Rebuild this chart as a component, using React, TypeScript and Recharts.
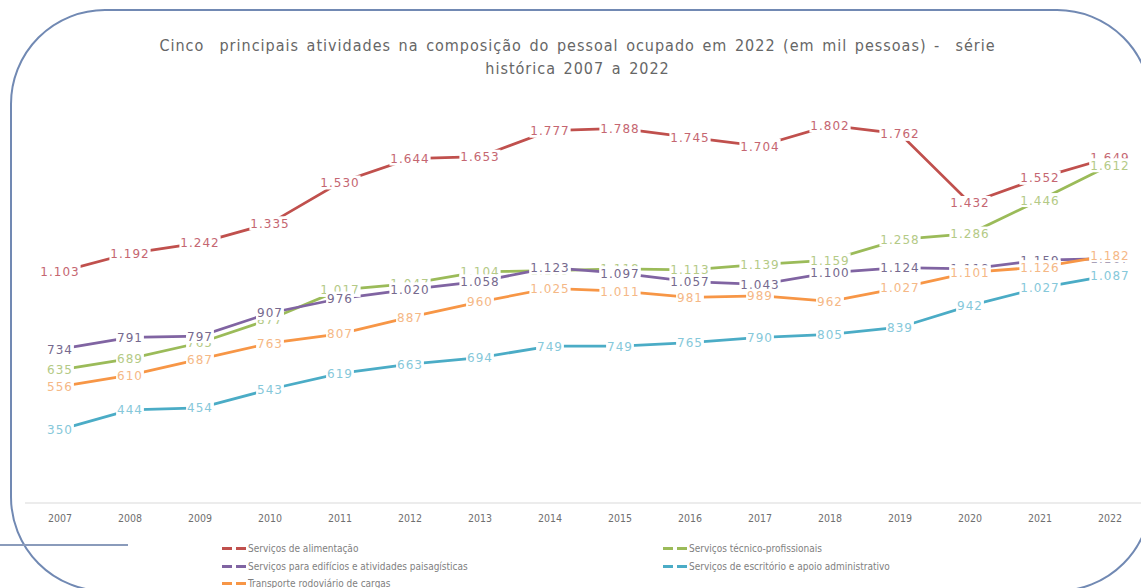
import { LineChart, Line, XAxis, YAxis, Legend, LabelList } from 'recharts';

const years = ['2007', '2008', '2009', '2010', '2011', '2012', '2013', '2014', '2015', '2016', '2017', '2018', '2019', '2020', '2021', '2022'];
const alimentacao = [1103, 1192, 1242, 1335, 1530, 1644, 1653, 1777, 1788, 1745, 1704, 1802, 1762, 1432, 1552, 1649];
const tecnico = [635, 689, 765, 877, 1017, 1047, 1104, 1109, 1118, 1113, 1139, 1159, 1258, 1286, 1446, 1612];
const edificios = [734, 791, 797, 907, 976, 1020, 1058, 1123, 1097, 1057, 1043, 1100, 1124, 1118, 1159, 1167];
const escritorio = [350, 444, 454, 543, 619, 663, 694, 749, 749, 765, 790, 805, 839, 942, 1027, 1087];
const transporte = [556, 610, 687, 763, 807, 887, 960, 1025, 1011, 981, 989, 962, 1027, 1101, 1126, 1182];

const series = [
  { key: 'alimentacao', name: 'Serviços de alimentação', color: '#c0504d', labelColor: '#c56671' },
  { key: 'tecnico', name: 'Serviços técnico-profissionais', color: '#9bbb59', labelColor: '#b4ca86' },
  { key: 'edificios', name: 'Serviços para edifícios e atividades paisagísticas', color: '#8064a2', labelColor: '#76698e' },
  { key: 'escritorio', name: 'Serviços de escritório e apoio administrativo', color: '#4bacc6', labelColor: '#86c8da' },
  { key: 'transporte', name: 'Transporte rodoviário de cargas', color: '#f79646', labelColor: '#f5b886' },
];

const data = years.map((year, i) => ({
  year,
  alimentacao: alimentacao[i],
  tecnico: tecnico[i],
  edificios: edificios[i],
  escritorio: escritorio[i],
  transporte: transporte[i],
}));

// brazilian thousands separator
const fmt = (v: number) =>
  v >= 1000 ? `${Math.floor(v / 1000)}.${String(v % 1000).padStart(3, '0')}` : String(v);

const makeLabel = (color: string) => (props: any) => {
  const { x, y, value } = props;
  const txt = fmt(value);
  const w = txt.replace('.', '').length * 8.6 + (txt.includes('.') ? 4.8 : 0) + 2;
  return (
    <g>
      <rect x={x - w / 2} y={y - 7} width={w} height={14} fill="#fff" />
      <text
        x={x}
        y={y}
        dy={4.5}
        textAnchor="middle"
        fill={color}
        fontSize={12}
        letterSpacing={1}
        fontFamily="'DejaVu Sans', sans-serif"
      >
        {txt}
      </text>
    </g>
  );
};

const legendRows = [
  [series[0], series[1]],
  [series[2], series[3]],
  [series[4]],
];

function ChartLegend() {
  return (
    <div style={{ position: 'relative', height: 55, paddingTop: 7, boxSizing: 'border-box' }}>
      {legendRows.map((row, r) =>
        row.map((s, c) => (
          <div
            key={s.key}
            style={{
              position: 'absolute',
              left: c === 0 ? 222 : 663,
              top: 7 + r * 17.5,
              height: 17,
              display: 'flex',
              alignItems: 'center',
              fontFamily: "'DejaVu Sans Condensed', 'DejaVu Sans', sans-serif",
              fontSize: 10,
              color: '#7f7f7f',
              whiteSpace: 'nowrap',
            }}
          >
            <span style={{ display: 'inline-block', width: 10, height: 3, background: s.color, marginRight: 4 }} />
            <span style={{ display: 'inline-block', width: 10, height: 3, background: s.color, marginRight: 2 }} />
            {s.name}
          </div>
        ))
      )}
    </div>
  );
}

export default function App() {
  return (
    <div style={{ position: 'absolute', left: 0, top: 0, width: 1141, height: 588, overflow: 'hidden', background: '#fff' }}>
      <div
        style={{
          position: 'absolute',
          left: 10,
          top: 9,
          width: 1142,
          height: 583,
          border: '2px solid #7189b3',
          borderRadius: 95,
          boxSizing: 'border-box',
        }}
      />
      <div style={{ position: 'absolute', left: 0, top: 544, width: 128, height: 2, background: '#8a9bbb' }} />
      <div
        style={{
          position: 'absolute',
          left: 0,
          top: 34,
          width: 1155,
          textAlign: 'center',
          fontFamily: "'Liberation Sans Narrow', 'DejaVu Sans Condensed', sans-serif",
          fontSize: 16,
          lineHeight: '23px',
          color: '#666',
          letterSpacing: 1,
          wordSpacing: 2,
        }}
      >
        Cinco&nbsp; principais atividades na composição do pessoal ocupado em 2022 (em mil pessoas) -&nbsp; série
        <br />
        histórica 2007 a 2022
      </div>
      <div style={{ position: 'absolute', left: 0, top: 0 }}>
        <LineChart width={1160} height={588} data={data} margin={{ top: 84, right: 15, left: 25, bottom: 0 }}>
          <XAxis
            dataKey="year"
            padding={{ left: 35, right: 35 }}
            axisLine={{ stroke: '#d9d9d9', strokeWidth: 1 }}
            tickLine={false}
            tickMargin={6}
            height={30}
            interval={0}
            tick={{ fill: '#6f6f6f', fontSize: 10.5, fontFamily: "'DejaVu Sans Condensed', sans-serif" }}
          />
          <YAxis hide domain={[0, 2000]} />
          <Legend verticalAlign="bottom" height={55} wrapperStyle={{ left: 0, width: 1141 }} content={() => <ChartLegend />} />
          {series.map((s) => (
            <Line
              key={s.key}
              dataKey={s.key}
              name={s.name}
              stroke={s.color}
              strokeWidth={2.75}
              dot={false}
              activeDot={false}
              type="linear"
              isAnimationActive={false}
            />
          ))}
          {/* labels drawn after every line so they sit on top */}
          {series.map((s) => (
            <Line
              key={`${s.key}-labels`}
              dataKey={s.key}
              stroke="none"
              dot={false}
              activeDot={false}
              legendType="none"
              isAnimationActive={false}
            >
              <LabelList dataKey={s.key} content={makeLabel(s.labelColor)} />
            </Line>
          ))}
        </LineChart>
      </div>
    </div>
  );
}
